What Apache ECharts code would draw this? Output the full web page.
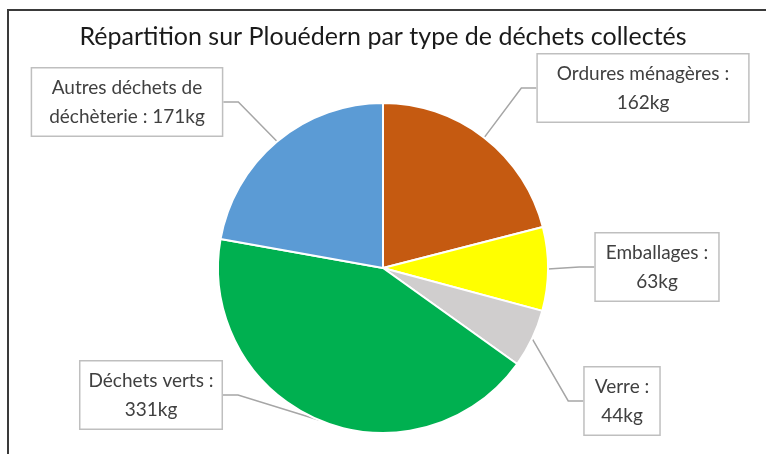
<!DOCTYPE html>
<html>
<head>
<meta charset="utf-8">
<script src="https://cdn.jsdelivr.net/npm/echarts@6/dist/echarts.min.js"></script>
<style>
	html, body { margin: 0; padding: 0; background: #fff; }
	#chart { width: 766px; height: 454px; }
</style>
</head>
<body>
<div id="chart"></div>
<script>
	
	var title = "Répartition sur Plouédern par type de déchets collectés";
	
	var categories = ["Ordures ménagères", "Emballages", "Verre", "Déchets verts", "Autres déchets de\ndéchèterie"];
	
	var values = [162, 63, 44, 331, 171];
	
	var colors = ["#C55A11", "#FFFF00", "#D0CECE", "#00B050", "#5B9BD5"];
	
	// centres des étiquettes
	var labelPos = [[643, 88], [657, 267], [622, 401], [151, 395], [127, 102]];
	
	// marge horizontale des cadres
	var labelPadX = [19, 10, 10, 8, 17];
	
	// texte des étiquettes
	var labelText = [
		"Ordures ménagères :\n162kg",
		"Emballages :\n63kg",
		"Verre :\n44kg",
		"Déchets verts :\n331kg",
		"Autres déchets de\ndéchèterie : 171kg"
	];
	
	var chart = echarts.init(document.getElementById("chart"));
	
	var data = [];
	
	categories.forEach(function(name, i) {
		data.push({
			name: name,
			value: values[i],
			itemStyle: { color: colors[i] },
			label: { padding: [5, labelPadX[i], 4, labelPadX[i]] }
		});
	});
	
	chart.setOption({
		animation: false,
		title: {
			text: title,
			left: "center",
			top: 19,
			textStyle: {
				fontFamily: "Lato",
				fontSize: 25,
				fontWeight: "normal",
				color: "#1a1a1a"
			}
		},
		graphic: [{
			type: "polyline",
			shape: { points: [[8, 454], [8, 10], [766, 10]] },
			style: { stroke: "#3a3a3a", lineWidth: 2, fill: null }
		}],
		series: [{
			type: "pie",
			center: [383, 268],
			radius: 165,
			startAngle: 90,
			clockwise: true,
			data: data,
			itemStyle: {
				borderColor: "#fff",
				borderWidth: 2
			},
			label: {
				show: true,
				position: "outside",
				formatter: function(p) {
					return labelText[p.dataIndex];
				},
				fontFamily: "Lato",
				fontSize: 19,
				lineHeight: 29,
				color: "#404040",
				backgroundColor: "#fff",
				borderColor: "#BFBFBF",
				borderWidth: 1.5,
				align: "center"
			},
			labelLine: {
				show: true,
				length: 20,
				length2: 15,
				lineStyle: { color: "#A6A6A6", width: 1.5 }
			},
			labelLayout: function(params) {
				var pos = labelPos[params.dataIndex];
				return {
					x: pos[0],
					y: pos[1],
					align: "center",
					verticalAlign: "middle",
					moveOverlap: "none"
				};
			}
		}]
	});
	
</script>
</body>
</html>
